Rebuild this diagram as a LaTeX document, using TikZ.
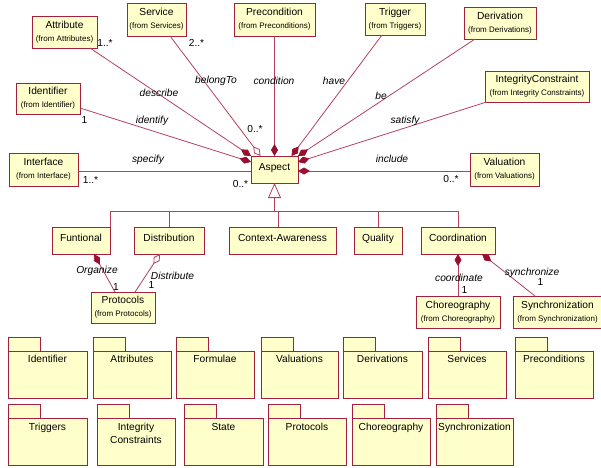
\documentclass[tikz,border=0pt]{standalone}
\usepackage{fontspec}
\setmainfont{Liberation Sans}
\usetikzlibrary{arrows.meta,calc,shadows}
\definecolor{clsfill}{HTML}{FFFFCC}
\definecolor{clsline}{HTML}{A3213F}
\definecolor{assocline}{HTML}{B4405E}
\definecolor{diafill}{HTML}{99102F}
\definecolor{shadowpink}{HTML}{E2B4BE}
\newcommand\fromline[1]{{\fontsize{8}{9}\selectfont(from #1)}}
\begin{document}
\begin{tikzpicture}[x=1pt,y=-1pt,
  every node/.style={inner sep=0pt, outer sep=0pt},
  box/.style={draw=clsline, fill=clsfill, line width=0.9pt,
    general shadow={fill=shadowpink, shadow xshift=1pt, shadow yshift=-1pt}},
  cls/.style={box, rectangle, align=center, font=\fontsize{10.2}{12.8}\selectfont},
  subcls/.style={box, rectangle, font=\fontsize{10.2}{12.6}\selectfont,
    text height=7.6pt, text depth=6.5pt, minimum height=27pt},
  pkg/.style={box, rectangle, minimum height=47pt},
  pkgname/.style={anchor=north, align=center, font=\fontsize{10.2}{13.3}\selectfont},
  assoc/.style={draw=assocline, line width=0.8pt},
  comp/.style={assoc, {Diamond[length=12pt, width=7pt, fill=diafill, color=diafill]}-},
  aggr/.style={assoc, {Diamond[open, length=12pt, width=7pt, fill=white]}-},
  rel/.style={font=\fontsize{10.2}{12}\selectfont\itshape},
  mult/.style={font=\fontsize{10.2}{12}\selectfont},
]
\useasboundingbox (0,0) rectangle (601,467);

% ---------- classes around Aspect ----------
\node[cls, minimum width=65pt, minimum height=32pt] (attr) at (64.5,32) {Attribute\\\fromline{Attributes}};
\node[cls, minimum width=59pt, minimum height=33pt] (serv) at (156.5,19.5) {Service\\\fromline{Services}};
\node[cls, minimum width=81pt, minimum height=33pt] (prec) at (274.5,19.5) {Precondition\\\fromline{Preconditions}};
\node[cls, minimum width=60pt, minimum height=32pt] (trig) at (395,19) {Trigger\\\fromline{Triggers}};
\node[cls, minimum width=72pt, minimum height=32pt] (deriv) at (500,23) {Derivation\\\fromline{Derivations}};
\node[cls, minimum width=104pt, minimum height=31pt] (integ) at (537,86.5) {IntegrityConstraint\\\fromline{Integrity Constraints}};
\node[cls, minimum width=64pt, minimum height=31pt] (ident) at (48,98.5) {Identifier\\\fromline{Identifier}};
\node[cls, minimum width=69pt, minimum height=33pt] (intf) at (43.5,169.5) {Interface\\\fromline{Interface}};
\node[cls, minimum width=69pt, minimum height=33pt] (valu) at (504.5,169.5) {Valuation\\\fromline{Valuations}};
\node[subcls, minimum width=47pt] (aspect) at (274.5,169.5) {Aspect};

% ---------- subclasses ----------
\node[subcls, minimum width=58pt] (funt) at (81,240.5) {Funtional};
\node[subcls, minimum width=70pt] (distr) at (169,240.5) {Distribution};
\node[subcls, minimum width=107pt] (ctx) at (282.5,240.5) {Context-Awareness};
\node[subcls, minimum width=48pt] (qual) at (378,240.5) {Quality};
\node[subcls, minimum width=74pt] (coord) at (458,240.5) {Coordination};
\node[cls, minimum width=64pt, minimum height=31pt] (proto) at (123,307.5) {Protocols\\\fromline{Protocols}};
\node[cls, minimum width=84pt, minimum height=32pt] (chor) at (458,312) {Choreography\\\fromline{Choreography}};
\node[cls, minimum width=89pt, minimum height=32pt] (sync) at (557.5,312) {Synchronization\\\fromline{Synchronization}};

% ---------- attachment points on Aspect ----------
\coordinate (aServ) at ($(aspect.north west)+(9.5,0)$);
\coordinate (aTrig) at ($(aspect.north east)+(-6.5,0)$);
\coordinate (aIdent) at ($(aspect.north west)+(0,6)$);
\coordinate (aInteg) at ($(aspect.north east)+(0,6)$);
\coordinate (aSide) at ($(aspect.north west)+(0,15)$);
\coordinate (aInc) at ($(aspect.north east)+(0,15)$);

% ---------- associations of Aspect ----------
\draw[comp] (aspect.north west) -- ($(attr.south west)+(58,0)$);
\draw[aggr] (aServ) -- ($(serv.south west)+(43,0)$);
\draw[comp] (aspect.north) -- (prec.south);
\draw[comp] (aTrig) -- ($(trig.south west)+(17,0)$);
\draw[comp] (aspect.north east) -- ($(deriv.south west)+(11,0)$);
\draw[comp] (aInteg) -- ($(integ.south west)+(1.5,0)$);
\draw[comp] (aIdent) -- ($(ident.north east)+(0,25)$);
\draw[assoc] (aSide) -- (intf.east |- aSide);
\draw[comp] (aInc) -- (valu.west |- aInc);

% role names
\node[rel] (lDescribe) at (159,93) {describe};
\node[rel] (lBelong) at (216,81) {belongTo};
\node[rel] (lCond) at (274,81) {condition};
\node[rel] (lIdentify) at (152,121) {identify};
\node[rel] (lHave) at (334,81) {have};
\node[rel] (lBe) at (381,96) {be};
\node[rel] (lSatisfy) at (405,121) {satisfy};
\node[rel] (lSpecify) at (148,160) {specify};
\node[rel] (lInclude) at (392,159) {include};

% multiplicities
\node[mult] (mAttr) at (105,43) {1..*};
\node[mult] (mServ) at (196.5,43) {2..*};
\node[mult] (mServA) at (255,129) {0..*};
\node[mult] (mIdent) at (84.5,120) {1};
\node[mult] (mIntf) at (90.5,180) {1..*};
\node[mult] (mIntfA) at (240.5,184) {0..*};
\node[mult] (mValu) at (451,179) {0..*};

% ---------- generalization tree ----------
\coordinate (busY) at (0,211);
\coordinate (ctxTop) at ([xshift=-4.5pt]ctx.north);
\draw[assoc, -{Triangle[open, length=15pt, width=13pt]}] (aspect.south |- busY) -- (aspect.south);
\draw[assoc] (funt.north east) |- (coord.north |- busY) -- (coord.north);
\draw[assoc] (distr.north) -- (distr.north |- busY);
\draw[assoc] (ctxTop) -- (ctxTop |- busY);
\draw[assoc] (qual.north) -- (qual.north |- busY);

% ---------- part relations of the subclasses ----------
\draw[comp] ($(funt.south west)+(42,0)$) -- ($(proto.north west)+(24,0)$);
\draw[aggr] ($(distr.south west)+(26,0)$) -- ($(proto.north west)+(44,0)$);
\draw[comp] (coord.south) -- (chor.north);
\draw[comp] ($(coord.south west)+(61,0)$) -- ($(sync.north west)+(22,0)$);

\node[rel] (lOrg) at (97,271) {Organize};
\node[rel] (lDist) at (172.5,275.5) {Distribute};
\node[rel] (lCoord) at (459,278) {coordinate};
\node[rel] (lSync) at (532,272.5) {synchronize};
\node[mult] (mOrg) at (116,287) {1};
\node[mult] (mDist) at (151.5,285) {1};
\node[mult] (mCoord) at (464.5,289.5) {1};
\node[mult] (mSync) at (540.5,282) {1};

% ---------- packages ----------
\foreach \nm/\lx/\rx/\ty/\txt/\dy in {
  pIdent/8/87/351/Identifier/4.5,
  pAttr/93/171/351/Attributes/4.5,
  pForm/176/254/351/Formulae/4.5,
  pValu/261/338/351/Valuations/4.5,
  pDeriv/343/422/351/Derivations/4.5,
  pServ/428/506/351/Services/4.5,
  pPrec/515/593/351/Preconditions/4.5,
  pTrig/8/87/418/Triggers/5,
  pInteg/97/175/418/{Integrity\\Constraints}/5,
  pState/184/263/418/State/5,
  pProto/268/346/418/Protocols/5,
  pChor/352/430/418/Choreography/5,
  pSync/436/513/418/Synchronization/5} {
  \draw[box] (\lx,\ty) rectangle ++(32,-14);
  \node[pkg, anchor=north west, minimum width={(\rx-\lx)*1pt}] (\nm) at (\lx,\ty) {};
  \node[pkgname] (\nm-name) at ($(\nm.north)+(0,\dy)$) {\txt};
}
\end{tikzpicture}
\end{document}
